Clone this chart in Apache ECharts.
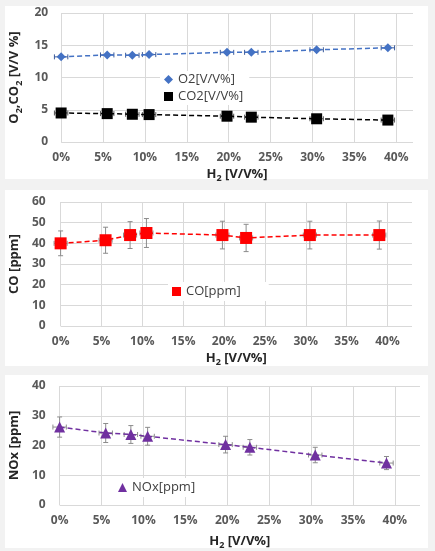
<!DOCTYPE html>
<html>
<head>
<meta charset="utf-8">
<script src="https://cdn.jsdelivr.net/npm/echarts@6/dist/echarts.min.js"></script>
<style>
html,body{margin:0;padding:0;background:#f2f2f2;}
#wrap{position:relative;width:435px;height:551px;}
.panel{position:absolute;background:#fff;}
#chart{position:absolute;left:0;top:0;width:435px;height:551px;}
</style>
</head>
<body>
<div id="wrap">
<div class="panel" style="left:5px;top:6px;width:423px;height:173px;"></div>
<div class="panel" style="left:5px;top:190px;width:423px;height:176px;"></div>
<div class="panel" style="left:5px;top:375px;width:423px;height:173px;"></div>
<div id="chart"></div>
</div>
<script>
// ---- data ----
const h2 = [0, 5.5, 8.5, 10.5, 19.8, 22.7, 30.5, 39];
const h2Err = [0.8, 0.8, 0.8, 0.8, 0.8, 0.8, 0.8, 0.8];
const o2 = [13.2, 13.5, 13.45, 13.55, 13.9, 13.9, 14.3, 14.6];
const co2 = [4.5, 4.4, 4.3, 4.25, 4.0, 3.85, 3.6, 3.4];
const co = [40, 41.5, 44, 45, 44, 42.6, 44, 44];
const coErr = [6, 6.3, 6.5, 7, 6.7, 6.6, 6.7, 6.8];
const nox = [26.2, 24.2, 23.7, 23.1, 20.3, 19.4, 16.8, 14.1];
const noxErr = [3.4, 3.2, 3.0, 3.0, 2.8, 2.6, 2.6, 2.2];
const xTicks = ['0%', '5%', '10%', '15%', '20%', '25%', '30%', '35%', '40%'];
const names = { o2: 'O2[V/V%]', co2: 'CO2[V/V%]', co: 'CO[ppm]', nox: 'NOx[ppm]' };

const FONT = '"Open Sans", sans-serif';
const pts = (ys) => h2.map((x, i) => [x, ys[i]]);
const errPts = (ys, es) => h2.map((x, i) => [x, ys[i], es ? es[i] : 0, h2Err[i]]);

function errRender(color) {
  return function (params, api) {
    const x = api.value(0), y = api.value(1), e = api.value(2), xe = api.value(3);
    const st = { stroke: color, lineWidth: 1 };
    const ch = [];
    const cap = 2.5;
    if (e > 0) {
      const t = api.coord([x, y + e]), b = api.coord([x, y - e]);
      ch.push({ type: 'line', shape: { x1: t[0], y1: t[1], x2: b[0], y2: b[1] }, style: st });
      ch.push({ type: 'line', shape: { x1: t[0] - cap, y1: t[1], x2: t[0] + cap, y2: t[1] }, style: st });
      ch.push({ type: 'line', shape: { x1: b[0] - cap, y1: b[1], x2: b[0] + cap, y2: b[1] }, style: st });
    }
    const l = api.coord([x - xe, y]), r = api.coord([x + xe, y]);
    ch.push({ type: 'line', shape: { x1: l[0], y1: l[1], x2: r[0], y2: r[1] }, style: st });
    ch.push({ type: 'line', shape: { x1: l[0], y1: l[1] - cap, x2: l[0], y2: l[1] + cap }, style: st });
    ch.push({ type: 'line', shape: { x1: r[0], y1: r[1] - cap, x2: r[0], y2: r[1] + cap }, style: st });
    return { type: 'group', children: ch };
  };
}

const tickLbl = { color: '#595959', fontSize: 12, fontFamily: FONT, fontWeight: 'bold' };
const nameStyle = {
  color: '#262626', fontSize: 13, fontWeight: 'bold', fontFamily: FONT,
  rich: {
    b: { color: '#262626', fontSize: 13, fontWeight: 'bold', fontFamily: FONT, lineHeight: 18 },
    s: { color: '#262626', fontSize: 9, fontWeight: 'bold', fontFamily: FONT, lineHeight: 18, verticalAlign: 'bottom', padding: [6, 0, 0, 0] }
  }
};
const gridLine = { show: true, showMaxLine: false, lineStyle: { color: '#d9d9d9', width: 1 } };

function xAx(gi, max, gap) {
  return {
    type: 'value', gridIndex: gi, min: 0, max: max, interval: 5,
    axisLine: { show: false }, axisTick: { show: false },
    splitLine: gridLine,
    axisLabel: Object.assign({}, tickLbl, { margin: 10, showMaxLabel: false,
      formatter: v => { const i = Math.round(v / 5); return (Math.abs(v - i * 5) < 1e-6 && xTicks[i]) ? xTicks[i] : ''; } }),
    name: '{b|H}{s|2}{b| [V/V%]}', nameLocation: 'middle', nameGap: gap, nameTextStyle: nameStyle
  };
}
function yAx(gi, max, interval, name, gap, margin) {
  return {
    type: 'value', gridIndex: gi, min: 0, max: max, interval: interval,
    axisLine: { show: false }, axisTick: { show: false },
    splitLine: { show: true, lineStyle: { color: '#d9d9d9', width: 1 } },
    axisLabel: Object.assign({}, tickLbl, { margin: margin }),
    name: name, nameLocation: 'middle', nameGap: gap, nameRotate: 90, nameTextStyle: nameStyle
  };
}
const legendText = { color: '#404040', fontSize: 13, fontFamily: FONT };

const option = {
  animation: false,
  backgroundColor: 'transparent',
  grid: [
    { left: 53, top: 13, width: 360, height: 129 },
    { left: 58, top: 202, width: 354, height: 124 },
    { left: 54, top: 386, width: 366, height: 120 }
  ],
  xAxis: [xAx(0, 42, 23), xAx(1, 43, 23), xAx(2, 43, 27)],
  yAxis: [
    yAx(0, 20, 5, '{b|O}{s|2}{b|,CO}{s|2}{b| [V/V %]}', 28, 13),
    yAx(1, 60, 10, '{b|CO [ppm]}', 30, 15),
    yAx(2, 40, 10, '{b|NOx [ppm]}', 29, 14)
  ],
  legend: [
    { left: 160, top: 71, orient: 'vertical', itemGap: 4, itemWidth: 9, itemHeight: 9, itemTextGap: 9,
      backgroundColor: '#fff', padding: [2, 6, 2, 4], textStyle: legendText,
      data: [{ name: names.o2, icon: 'diamond' }, { name: names.co2, icon: 'rect' }] },
    { left: 168, top: 282, itemWidth: 9, itemHeight: 9, itemTextGap: 3,
      backgroundColor: '#fff', padding: [3, 28, 3, 4], textStyle: legendText,
      data: [{ name: names.co, icon: 'rect' }] },
    { left: 112, top: 478, itemWidth: 9, itemHeight: 9, itemTextGap: 3,
      backgroundColor: '#fff', padding: [3, 26, 3, 6], textStyle: legendText,
      data: [{ name: names.nox, icon: 'triangle' }] }
  ],
  series: [
    { type: 'custom', xAxisIndex: 0, yAxisIndex: 0, renderItem: errRender('#3a5a9a'), data: errPts(o2, null), z: 3, silent: true },
    { type: 'custom', xAxisIndex: 0, yAxisIndex: 0, renderItem: errRender('#555'), data: errPts(co2, null), z: 3, silent: true },
    { type: 'custom', xAxisIndex: 1, yAxisIndex: 1, renderItem: errRender('#8c8c8c'), data: errPts(co, coErr), z: 3, silent: true },
    { type: 'custom', xAxisIndex: 2, yAxisIndex: 2, renderItem: errRender('#8c8c8c'), data: errPts(nox, noxErr), z: 3, silent: true },
    { name: names.o2, type: 'line', xAxisIndex: 0, yAxisIndex: 0, data: pts(o2), symbol: 'diamond', symbolSize: 9,
      itemStyle: { color: '#4472c4' }, lineStyle: { color: '#4472c4', width: 1.5, type: [5, 3] }, z: 4 },
    { name: names.co2, type: 'line', xAxisIndex: 0, yAxisIndex: 0, data: pts(co2), symbol: 'rect', symbolSize: 11,
      itemStyle: { color: '#000' }, lineStyle: { color: '#000', width: 1.5, type: [5, 3] }, z: 4 },
    { name: names.co, type: 'line', xAxisIndex: 1, yAxisIndex: 1, data: pts(co), symbol: 'rect', symbolSize: 12,
      itemStyle: { color: '#ff0000' }, lineStyle: { color: '#ff0000', width: 1.5, type: [5, 3] }, z: 4 },
    { name: names.nox, type: 'line', xAxisIndex: 2, yAxisIndex: 2, data: pts(nox), symbol: 'triangle', symbolSize: 11,
      itemStyle: { color: '#7030a0' }, lineStyle: { color: '#7030a0', width: 1.5, type: [5, 3] }, z: 4 }
  ]
};
const chart = echarts.init(document.getElementById('chart'), null, { renderer: 'canvas' });
chart.setOption(option);
</script>
</body>
</html>
